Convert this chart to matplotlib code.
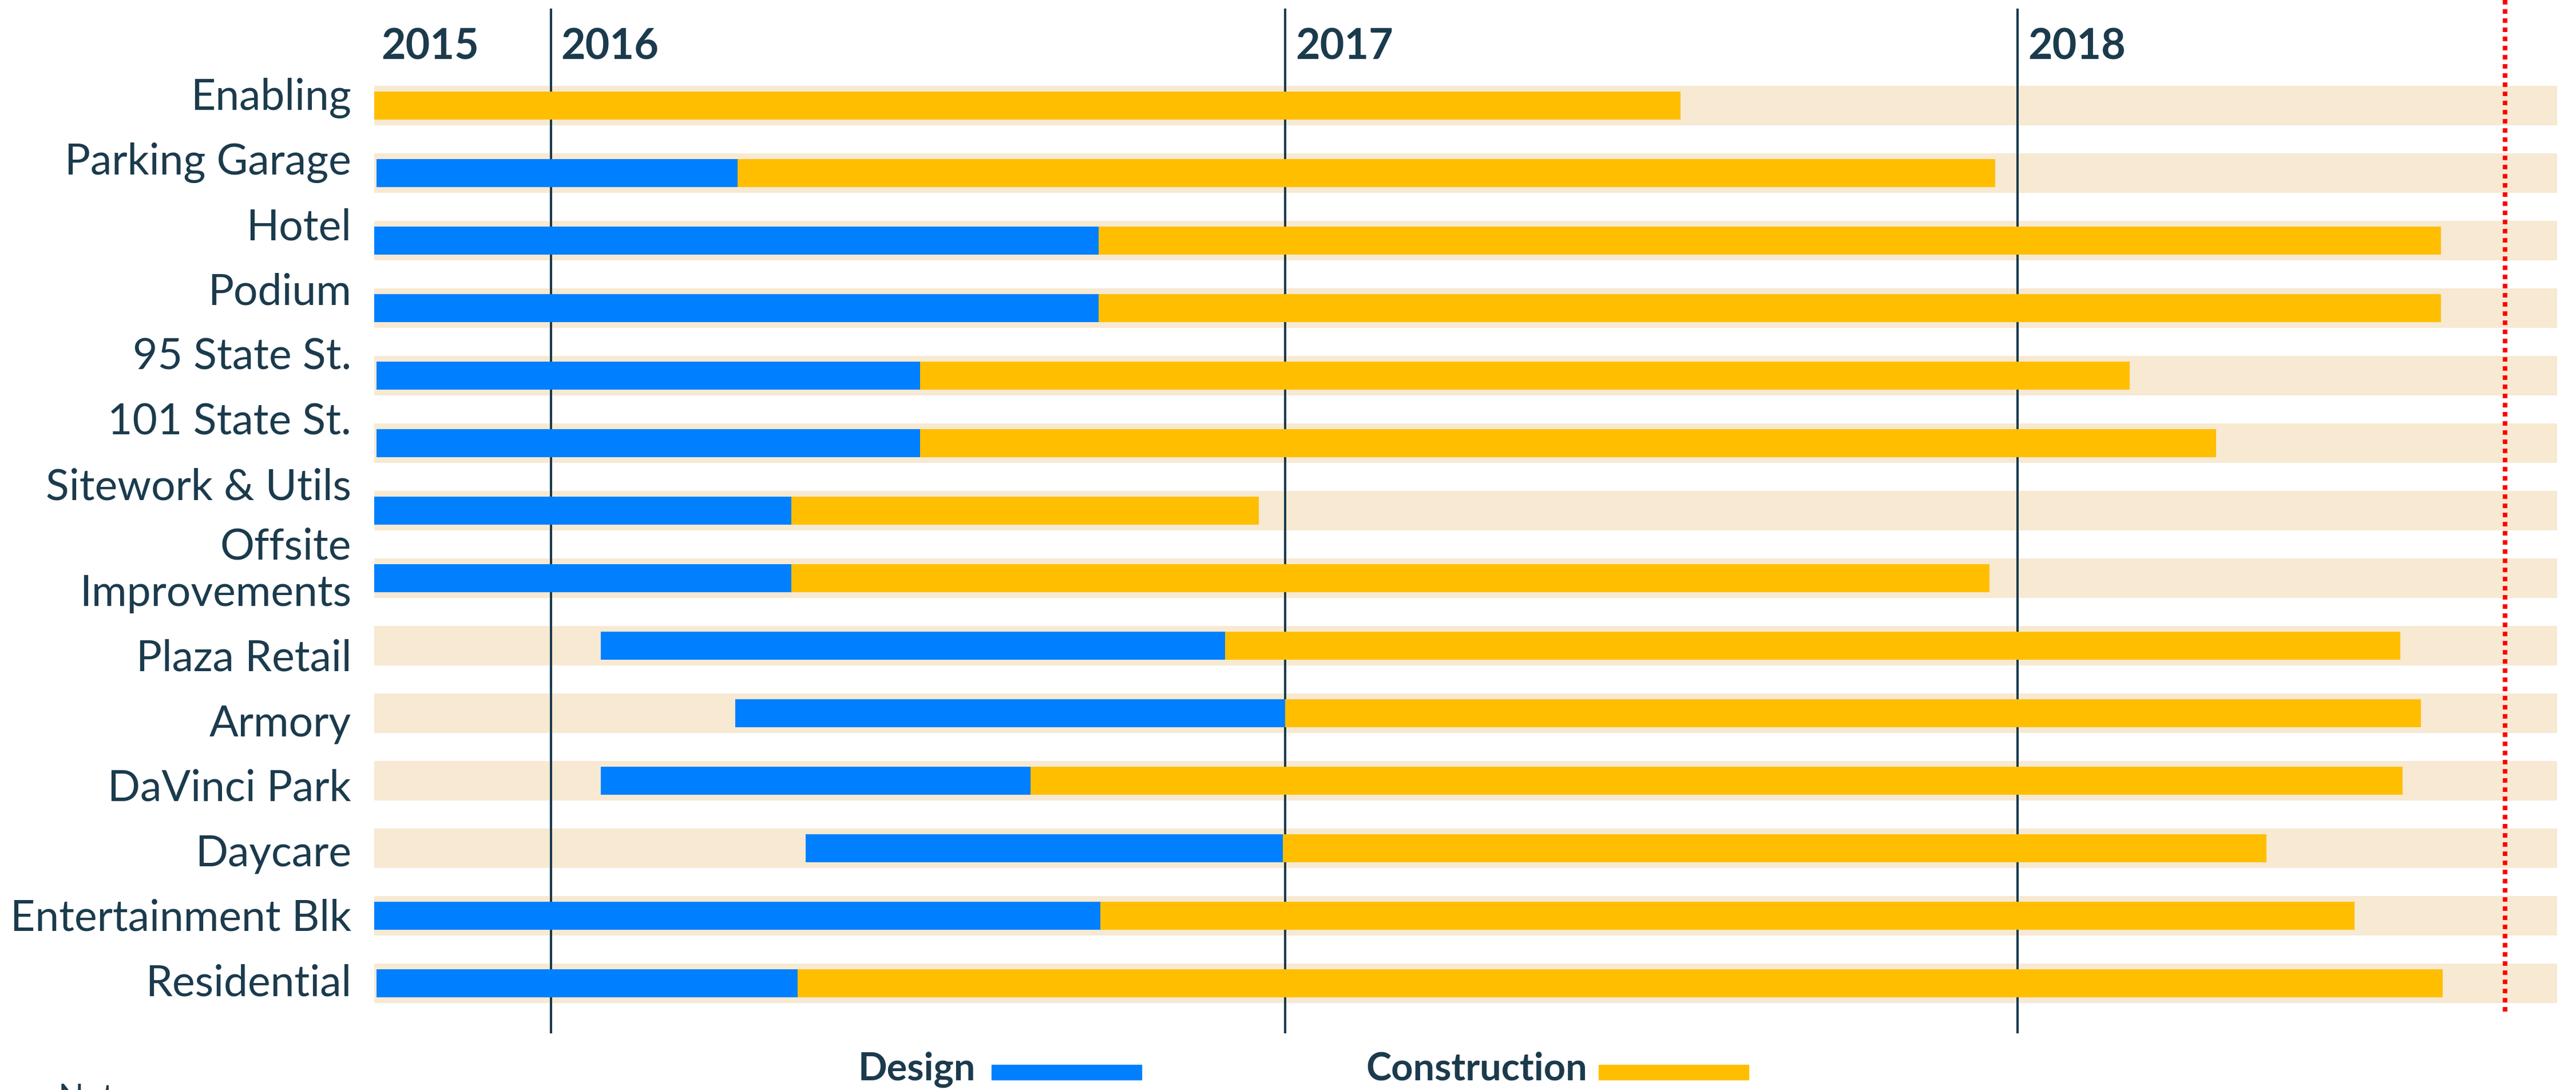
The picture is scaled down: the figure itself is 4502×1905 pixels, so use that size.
import matplotlib
matplotlib.use("Agg")
import matplotlib.pyplot as plt
import matplotlib.dates as mdates
import matplotlib.transforms as mtransforms
from matplotlib.patches import Rectangle
import pandas as pd

# project schedule
tasks = ["Enabling", "Parking Garage", "Hotel", "Podium", "95 State St.",
         "101 State St.", "Sitework & Utils", "Offsite\nImprovements",
         "Plaza Retail", "Armory", "DaVinci Park", "Daycare",
         "Entertainment Blk", "Residential"]
design_start = [None, "2015-10-06", "2015-10-05", "2015-10-05", "2015-10-06",
                "2015-10-06", "2015-10-05", "2015-10-05", "2016-01-26",
                "2016-04-02", "2016-01-26", "2016-05-07", "2015-10-05",
                "2015-10-06"]
design_end = [None, "2016-04-03", "2016-09-30", "2016-09-30", "2016-07-03",
              "2016-07-03", "2016-04-30", "2016-04-30", "2016-12-02",
              "2017-01-01", "2016-08-27", "2016-12-31", "2016-10-01",
              "2016-05-03"]
build_start = ["2015-10-05", "2016-04-03", "2016-09-30", "2016-09-30",
               "2016-07-03", "2016-07-03", "2016-04-30", "2016-04-30",
               "2016-12-02", "2017-01-01", "2016-08-27", "2016-12-31",
               "2016-10-01", "2016-05-03"]
build_end = ["2017-07-17", "2017-12-21", "2018-07-31", "2018-07-31",
             "2018-02-26", "2018-04-10", "2016-12-19", "2017-12-18",
             "2018-07-11", "2018-07-21", "2018-07-12", "2018-05-05",
             "2018-06-18", "2018-08-01"]
years = ["2016", "2017", "2018"]
chart_start = "2015-10-05"
chart_end = "2018-09-27"
today = "2018-09-01"

NAVY = "#1b3b4d"
BLUE = "#0080ff"
GOLD = "#ffbe00"
BAND = "#f7e9d2"

plt.rcParams["font.family"] = ["Lato", "DejaVu Sans"]


def num(s):
    return mdates.date2num(pd.Timestamp(s))


W, H = 4502, 1905
fig = plt.figure(figsize=(W / 100, H / 100), dpi=100)
row = 118.0  # pixels per row
top_px, bot_px, row0_px = 15, 1806, 184.5
ax = fig.add_axes([654 / W, 1 - bot_px / H, (4469 - 654) / W, (bot_px - top_px) / H])
ax.set_xlim(num(chart_start), num(chart_end))
ax.set_ylim((bot_px - row0_px) / row, (top_px - row0_px) / row)
ax.axis("off")


def to_row(px):
    return (px - row0_px) / row


x0, x1 = num(chart_start), num(chart_end)
for i, name in enumerate(tasks):
    ax.barh(i, x1 - x0, left=x0, height=0.585, color=BAND, zorder=1)
    if design_start[i] is not None:
        ds, de = num(design_start[i]), num(design_end[i])
        ax.barh(i, de - ds, left=ds, height=0.407, color=BLUE, zorder=3)
    bs, be = num(build_start[i]), num(build_end[i])
    ax.barh(i, be - bs, left=bs, height=0.407, color=GOLD, zorder=3)

# labels are stacked as a text column with their own pitch
lab = mtransforms.offset_copy(ax.transData, fig=fig, x=-40, y=0, units="dots")
base = 192.0
for name in tasks:
    nlines = name.count("\n") + 1
    base += 72.8 * (nlines - 1)
    ax.text(x0, to_row(base), name, transform=lab,
            ha="right", va="baseline", multialignment="right", linespacing=1.22,
            fontsize=54, color=NAVY)
    base += 113.5

# year dividers and labels
year_y = to_row(103)
for yr in years:
    ax.axvline(num(f"{yr}-01-01"), color=NAVY, lw=2.9, zorder=2)
    t = mtransforms.offset_copy(ax.transData, fig=fig, x=18, y=0, units="dots")
    ax.text(num(f"{yr}-01-01"), year_y, yr, transform=t, ha="left", va="baseline",
            fontsize=53, fontweight="bold", color=NAVY)
t = mtransforms.offset_copy(ax.transData, fig=fig, x=12, y=0, units="dots")
ax.text(x0, year_y, "2015", transform=t, ha="left", va="baseline",
        fontsize=53, fontweight="bold", color=NAVY)

# current date marker
ax.plot([num(today)] * 2, [to_row(0), to_row(1771)],
        color="#ff0000", lw=5.76, ls=(0, (1, 1)), dash_capstyle="butt",
        clip_on=False, zorder=5)

# legend
for label, color, tx, rx in [("Design", BLUE, 1500, 1733),
                             ("Construction", GOLD, 2387, 2794)]:
    fig.text(tx / W, 1 - 1888 / H, label, ha="left", va="baseline",
             fontsize=48, fontweight="bold", color=NAVY)
    fig.patches.append(Rectangle((rx / W, 1 - 1887 / H), 262 / W, 26 / H,
                                 transform=fig.transFigure, color=color))

fig.text(102 / W, 1 - 1893 / H, "Notes:", ha="left", va="top",
         fontsize=42, color=NAVY)

fig.savefig("out.png", dpi=100)
